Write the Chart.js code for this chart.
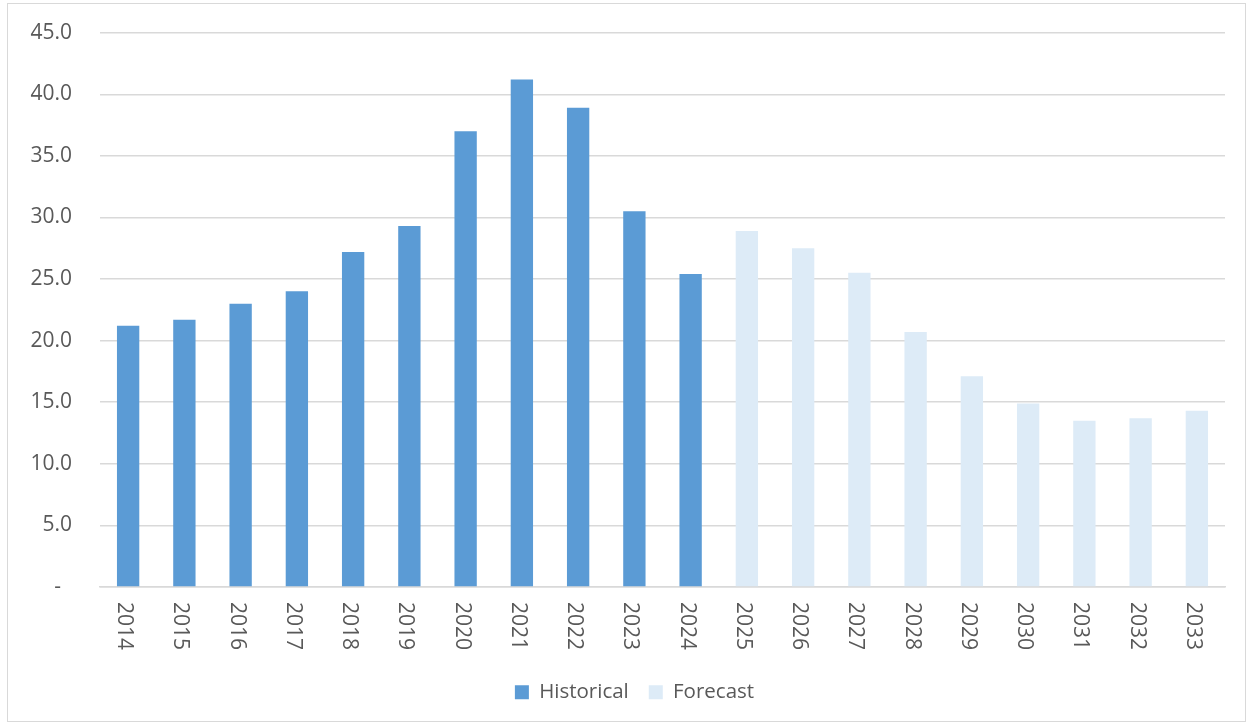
<!DOCTYPE html>
<html>
<head>
<meta charset="utf-8">
<script src="https://cdn.jsdelivr.net/npm/chart.js@4/dist/chart.umd.min.js"></script>
<style>
  html, body { margin: 0; padding: 0; background: #ffffff; }
  #frame { position: absolute; left: 7px; top: 3px; width: 1237px; height: 717px; border: 1px solid #d9d9d9; }
  #wrap { position: absolute; left: 8px; top: 4px; width: 1239px; height: 740px; }
</style>
</head>
<body>
<div id="frame"></div>
<div id="wrap"><canvas id="c" width="1239" height="740"></canvas></div>
<script>
const years = ['2014','2015','2016','2017','2018','2019','2020','2021','2022','2023','2024','2025','2026','2027','2028','2029','2030','2031','2032','2033'];
const historical = [21.2, 21.7, 23.0, 24.0, 27.2, 29.3, 37.0, 41.2, 38.9, 30.5, 25.4, null, null, null, null, null, null, null, null, null];
const forecast = [null, null, null, null, null, null, null, null, null, null, null, 28.9, 27.5, 25.5, 20.7, 17.1, 14.9, 13.5, 13.7, 14.3];
const yMin = 0, yMax = 45, yStep = 5;

const FONT = "'Open Sans', 'Liberation Sans', sans-serif";
const TEXT = '#595959';

const rotatedLabels = {
  id: 'rotatedLabels',
  afterLayout(chart) {
    if (chart.legend) { chart.legend.left += 18; chart.legend.right += 18; }
  },
  afterDraw(chart) {
    const xs = chart.scales.x;
    const ctx = chart.ctx;
    ctx.save();
    ctx.font = '21px ' + FONT;
    ctx.fillStyle = TEXT;
    ctx.textAlign = 'left';
    ctx.textBaseline = 'middle';
    xs.ticks.forEach((t, i) => {
      const x = xs.getPixelForTick(i) - 4;
      const y = chart.chartArea.bottom + 15;
      ctx.save();
      ctx.translate(x, y);
      ctx.rotate(Math.PI / 2);
      ctx.fillText(years[i], 0, 0);
      ctx.restore();
    });
    ctx.restore();
  }
};

new Chart(document.getElementById('c'), {
  type: 'bar',
  data: {
    labels: years,
    datasets: [
      { label: 'Historical', data: historical, backgroundColor: '#5B9BD5', barPercentage: 0.397, categoryPercentage: 1.0 },
      { label: 'Forecast', data: forecast, backgroundColor: '#DDEBF7', barPercentage: 0.397, categoryPercentage: 1.0 }
    ]
  },
  options: {
    responsive: false,
    animation: false,
    layout: { padding: { left: 0, right: 22, top: 28.7, bottom: 31.6 } },
    plugins: {
      tooltip: { enabled: false },
      legend: {
        position: 'bottom',
        labels: {
          font: { family: FONT, size: 20.5 },
          color: TEXT,
          boxWidth: 14,
          boxHeight: 14,
          padding: 20
        }
      }
    },
    scales: {
      x: {
        stacked: true,
        grid: { display: false, drawTicks: false },
        border: { display: true, color: '#d9d9d9', width: 1.5 },
        ticks: { display: false },
        afterFit(scale) { scale.height = 75; scale.paddingLeft = 0; scale.paddingRight = 0; scale.paddingTop = 0; scale.paddingBottom = 0; }
      },
      y: {
        stacked: true,
        min: yMin,
        max: yMax,
        grid: { color: '#d9d9d9', lineWidth: 1.5, drawTicks: false },
        border: { display: false },
        ticks: {
          stepSize: yStep,
          padding: 28,
          color: TEXT,
          font: { family: FONT, size: 21 },
          callback: (v) => v === 0 ? '-  ' : v.toFixed(1)
        },
        afterFit(scale) { scale.width = 92; scale.paddingTop = 0; scale.paddingBottom = 0; }
      }
    }
  },
  plugins: [rotatedLabels]
});
</script>
</body>
</html>
